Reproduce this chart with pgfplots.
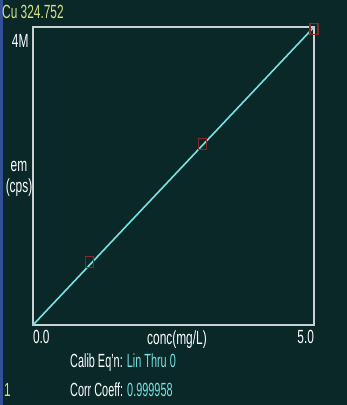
\documentclass[border=0pt]{standalone}
\usepackage{pgfplots}
\pgfplotsset{compat=1.18}
\usepackage{graphicx}
\usepackage{fontspec}
\setmainfont{Liberation Sans}
\newcommand\nt[1]{\scalebox{0.7}[1.12]{#1}}
\newcommand\ntb[1]{\scalebox{0.64}[1.12]{#1}}
\definecolor{bg}{RGB}{10,40,40}
\definecolor{frame}{RGB}{200,210,208}
\definecolor{cyanl}{RGB}{120,225,225}
\definecolor{redm}{RGB}{135,40,40}
\definecolor{titley}{RGB}{215,225,130}
\definecolor{blueb}{RGB}{50,80,150}
\begin{document}
\begin{tikzpicture}[x=1pt,y=1pt]
\fill[bg] (0,0) rectangle (347,-405);
\fill[blueb] (0,0) rectangle (2.5,-405);
\node[anchor=west,text=titley,font=\fontsize{17}{19}\selectfont,inner sep=0pt] at (2,-12) {\nt{Cu 324.752}};
\begin{axis}[
  at={(33pt,-325pt)}, anchor=south west,
  width=281pt, height=298pt, scale only axis,
  xmin=0, xmax=5, ymin=0, ymax=4.2e6,
  scaled y ticks=false, scaled x ticks=false,
  axis line style={frame, line width=1.4pt},
  xtick={0,5}, xticklabels={\makebox[0pt][l]{\nt{0.0}},\makebox[0pt][r]{\nt{5.0}}},
  ytick={4e6}, yticklabels={\nt{4M}},
  major tick length=0pt,
  tick label style={text=white,font=\fontsize{17}{19}\selectfont},
  /pgf/number format/assume math mode=true,
  xticklabel style={anchor=north, yshift=-2pt},
  yticklabel style={anchor=east, xshift=-1pt},
  clip=false,
]
\addplot[cyanl, line width=1.6pt, no marks] coordinates {(0,0) (5,4.2e6)};
\addplot[only marks, mark=square, mark size=5.5pt, mark options={redm, line width=1.1pt, xscale=0.72}] coordinates {(1.0,0.89e6) (3.02,2.55e6) (5.0,4.17e6)};
\end{axis}
\node[text=white,font=\fontsize{17}{19}\selectfont,inner sep=0pt] at (177,-340) {\nt{conc(mg/L)}};
\node[text=white,font=\fontsize{17}{19}\selectfont,inner sep=0pt,align=center] at (19,-179) {\nt{em}\\[2pt]\nt{(cps)}};
\node[anchor=west,inner sep=0pt,font=\fontsize{17}{19}\selectfont] at (70,-363) {\ntb{\textcolor{white}{Calib Eq'n: }\textcolor{cyanl}{Lin Thru 0}}};
\node[anchor=west,inner sep=0pt,font=\fontsize{17}{19}\selectfont] at (70,-390) {\ntb{\textcolor{white}{Corr Coeff: }\textcolor{cyanl}{0.999958}}};
\node[anchor=west,inner sep=0pt,text=titley,font=\fontsize{17}{19}\selectfont] at (4,-390) {\nt{1}};
\end{tikzpicture}
\end{document}
